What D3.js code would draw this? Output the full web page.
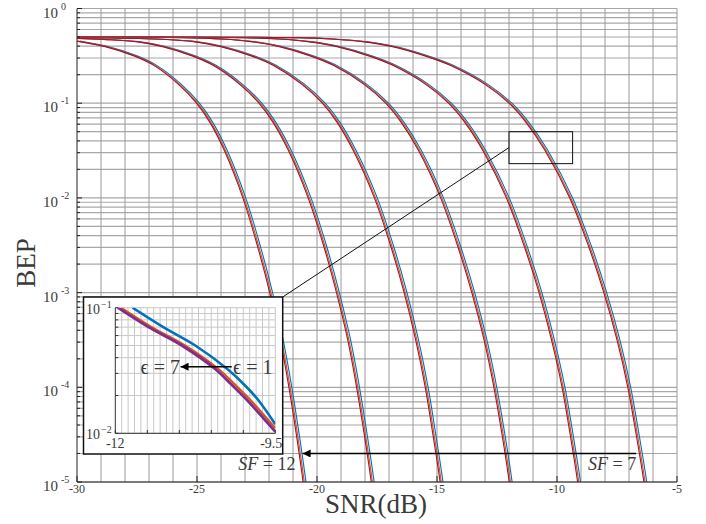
<!DOCTYPE html>
<html>
<head>
<meta charset="utf-8">
<script src="https://cdn.jsdelivr.net/npm/d3@7/dist/d3.min.js"></script>
<style>
  body { margin: 0; background: #fff; }
  text { font-family: "Liberation Serif", "DejaVu Serif", serif; fill: #3a3a3a; }
</style>
</head>
<body>
<svg id="chart" width="706" height="524"></svg>
<script>
const bepLevels = [0.447, 0.398, 0.316, 0.251, 0.158, 0.1, 0.0631, 0.0316, 0.01, 0.00316,
  1e-3, 3.16e-4, 1e-4, 3.16e-5, 1e-5, 2.5e-6];

// SNR (dB) where each spreading factor reaches those levels
const snrSF12 = [-29.9, -28.86, -27.62, -26.8, -25.77, -25.02, -24.47, -23.86, -23.09, -22.49, -21.97, -21.53, -21.17, -20.86, -20.58, -20.3];
const snrSF11 = [-27.54, -26.47, -25.2, -24.33, -23.22, -22.42, -21.84, -21.19, -20.37, -19.73, -19.19, -18.72, -18.35, -18.03, -17.74, -17.46];
const snrSF10 = [-25.15, -24.05, -22.74, -21.83, -20.63, -19.78, -19.17, -18.49, -17.61, -16.94, -16.37, -15.89, -15.49, -15.17, -14.87, -14.58];
const snrSF9 = [-22.75, -21.61, -20.28, -19.32, -18.04, -17.14, -16.5, -15.77, -14.85, -14.15, -13.55, -13.04, -12.63, -12.29, -11.99, -11.7];
const snrSF8 = [-20.38, -19.21, -17.84, -16.84, -15.47, -14.52, -13.85, -13.09, -12.11, -11.38, -10.75, -10.23, -9.79, -9.45, -9.14, -8.84];
const snrSF7 = [-18.1, -16.9, -15.5, -14.45, -13.0, -12.0, -11.3, -10.5, -9.47, -8.7, -8.05, -7.5, -7.05, -6.7, -6.38, -6.08];

// flat start of each curve near BEP = 0.5: [SNR dB, BEP]
const headSF12 = [[-30, 0.452]];
const headSF11 = [[-30, 0.484], [-28.9, 0.472]];
const headSF10 = [[-30, 0.497], [-27.5, 0.483], [-26.3, 0.47]];
const headSF9 = [[-30, 0.5], [-25.5, 0.492], [-24.0, 0.476]];
const headSF8 = [[-30, 0.5], [-23.0, 0.492], [-21.6, 0.476]];
const headSF7 = [[-30, 0.5], [-20.8, 0.492], [-19.4, 0.476]];

const sfSnr = [snrSF12, snrSF11, snrSF10, snrSF9, snrSF8, snrSF7];
const sfHead = [headSF12, headSF11, headSF10, headSF9, headSF8, headSF7];

// epsilon = 1 ... 7 bundle, shift (dB) of each edge seen in the main plot
const epsColors = ["#0072BD", "#D95319", "#A2142F"];
const epsShift = [0.12, 0.05, 0];

// zoomed SF = 7 curves of the inset
const insetBlue = [[-11.73, 0.1], [-11.25, 0.07], [-10.75, 0.05], [-10.25, 0.0325], [-10.0, 0.0248], [-9.77, 0.0185], [-9.5, 0.0118]];
const insetOrange = [[-11.91, 0.1], [-11.43, 0.07], [-10.91, 0.05], [-10.39, 0.0325], [-10.13, 0.0245], [-9.87, 0.018], [-9.5, 0.011]];
const insetPurple = [[-11.96, 0.1], [-11.48, 0.07], [-10.96, 0.05], [-10.44, 0.0325], [-10.18, 0.0243], [-9.92, 0.0179], [-9.5, 0.0103]];

const xTicks = [-30, -25, -20, -15, -10, -5];
const yTickExp = [0, -1, -2, -3, -4, -5];
const insetXTicks = [-12, -9.5];
const insetYTickExp = [-1, -2];

const svg = d3.select("#chart");
const pLeft = 77, pRight = 677, pTop = 8.5, pBottom = 482;

const x = d3.scaleLinear().domain([-30, -5]).range([pLeft, pRight]);
const y = d3.scaleLog().domain([1e-5, 1]).range([pBottom, pTop]);

const defs = svg.append("defs");
defs.append("clipPath").attr("id", "plotClip")
  .append("rect").attr("x", pLeft).attr("y", pTop).attr("width", pRight - pLeft).attr("height", pBottom - pTop);

// grid
const grid = svg.append("g");
grid.selectAll("line.h")
  .data(y.ticks())
  .enter().append("line")
  .attr("x1", pLeft).attr("x2", pRight)
  .attr("y1", d => y(d)).attr("y2", d => y(d))
  .attr("stroke", "#a8a8a8").attr("stroke-width", 1.2);
grid.selectAll("line.v")
  .data(d3.range(-29, -4))
  .enter().append("line")
  .attr("x1", d => x(d)).attr("x2", d => x(d))
  .attr("y1", pTop).attr("y2", pBottom)
  .attr("stroke", "#9a9a9a").attr("stroke-width", 1);

// curves
const line = shift => d3.line()
  .x(d => x(d[0] + shift))
  .y(d => y(d[1]))
  .curve(d3.curveCatmullRom.alpha(0.5));

const curves = svg.append("g").attr("clip-path", "url(#plotClip)");
sfSnr.forEach((snr, k) => {
  const pts = sfHead[k].concat(snr.map((s, i) => [s, bepLevels[i]]));
  epsColors.forEach((col, i) => {
    curves.append("path")
      .datum(pts)
      .attr("d", line(epsShift[i]))
      .attr("fill", "none")
      .attr("stroke", col)
      .attr("stroke-width", 1.1);
  });
});

// axes lines and ticks
svg.append("line").attr("x1", pLeft).attr("x2", pLeft).attr("y1", pTop).attr("y2", pBottom)
  .attr("stroke", "#222").attr("stroke-width", 1);
svg.append("line").attr("x1", pLeft).attr("x2", pRight).attr("y1", pBottom).attr("y2", pBottom)
  .attr("stroke", "#222").attr("stroke-width", 1);

svg.selectAll("line.ytick")
  .data(y.ticks())
  .enter().append("line")
  .attr("x1", pLeft).attr("x2", d => pLeft + (Math.abs(Math.log10(d) % 1) < 1e-9 ? 5 : 3))
  .attr("y1", d => y(d)).attr("y2", d => y(d))
  .attr("stroke", "#222");

svg.selectAll("line.xtick")
  .data(xTicks)
  .enter().append("line")
  .attr("x1", d => x(d)).attr("x2", d => x(d))
  .attr("y1", pBottom).attr("y2", pBottom - 6)
  .attr("stroke", "#222");

svg.selectAll("text.xlab")
  .data(xTicks)
  .enter().append("text")
  .attr("x", d => x(d)).attr("y", pBottom + 11)
  .attr("text-anchor", "middle")
  .attr("font-size", 12)
  .text(d => d);

const yl = svg.selectAll("text.ylab")
  .data(yTickExp)
  .enter().append("text")
  .attr("x", 43).attr("y", d => y(Math.pow(10, d)) + 9)
  .attr("font-size", 15)
  .text("10");
yl.append("tspan").attr("dx", 3).attr("dy", -8).attr("font-size", 10).text(d => d);

svg.append("text")
  .attr("x", 376).attr("y", 513)
  .attr("text-anchor", "middle")
  .attr("font-size", 27)
  .text("SNR(dB)");

svg.append("text")
  .attr("transform", "translate(35,263) rotate(-90)")
  .attr("text-anchor", "middle")
  .attr("font-size", 27)
  .text("BEP");

// arrow markers
defs.append("marker").attr("id", "head")
  .attr("viewBox", "0 0 10 10").attr("refX", 10).attr("refY", 5)
  .attr("markerWidth", 13).attr("markerHeight", 8).attr("markerUnits", "userSpaceOnUse")
  .attr("orient", "auto")
  .append("path").attr("d", "M0,0L10,5L0,10Z").attr("fill", "#000");

svg.append("line")
  .attr("x1", x(-6.7)).attr("x2", x(-20.6))
  .attr("y1", y(2e-5)).attr("y2", y(2e-5))
  .attr("stroke", "#000").attr("stroke-width", 1.6)
  .attr("marker-end", "url(#head)");

const sfText = (sx, sf) => {
  const t = svg.append("text")
    .attr("x", x(sx)).attr("y", y(1.35e-5))
    .attr("text-anchor", "end")
    .attr("font-size", 18);
  t.append("tspan").attr("font-style", "italic").text("SF");
  t.append("tspan").text(" = " + sf);
};
sfText(-20.9, 12);
sfText(-6.7, 7);

// zoom box and leader line
svg.append("rect")
  .attr("x", x(-12)).attr("y", y(0.05))
  .attr("width", x(-9.35) - x(-12)).attr("height", y(0.023) - y(0.05))
  .attr("fill", "none").attr("stroke", "#111").attr("stroke-width", 1);

const ix0 = 83.5, iy0 = 297, ix1 = 282.7, iy1 = 454;
svg.append("line")
  .attr("x1", x(-12)).attr("y1", y(0.034))
  .attr("x2", ix1).attr("y2", iy0)
  .attr("stroke", "#111").attr("stroke-width", 1);

// inset
const inset = svg.append("g");
inset.append("rect")
  .attr("x", ix0).attr("y", iy0).attr("width", ix1 - ix0).attr("height", iy1 - iy0)
  .attr("fill", "#fff").attr("stroke", "#111").attr("stroke-width", 1.5);

const xi = d3.scaleLinear().domain([-12, -9.5]).range([115.3, 275.3]);
const yi = d3.scaleLog().domain([0.01, 0.1]).range([433.3, 307.7]);

defs.append("clipPath").attr("id", "insetClip")
  .append("rect").attr("x", 115.3).attr("y", 307.7).attr("width", 160).attr("height", 125.6);

inset.selectAll("line.ih")
  .data(yi.ticks())
  .enter().append("line")
  .attr("x1", 115.3).attr("x2", 275.3)
  .attr("y1", d => yi(d)).attr("y2", d => yi(d))
  .attr("stroke", "#c8c8c8").attr("stroke-width", 1);
inset.selectAll("line.iv")
  .data(d3.range(1, 26))
  .enter().append("line")
  .attr("x1", d => xi(-12 + d / 10)).attr("x2", d => xi(-12 + d / 10))
  .attr("y1", 307.7).attr("y2", 433.3)
  .attr("stroke", "#c8c8c8").attr("stroke-width", 1);

const lineI = d3.line().x(d => xi(d[0])).y(d => yi(d[1])).curve(d3.curveCatmullRom.alpha(0.5));
const insetG = inset.append("g").attr("clip-path", "url(#insetClip)");
[[insetBlue, "#0072BD", 2.6], [insetOrange, "#D95319", 2.2], [insetPurple, "#7E2F8E", 2.8]].forEach(s => {
  insetG.append("path").datum(s[0]).attr("d", lineI)
    .attr("fill", "none").attr("stroke", s[1]).attr("stroke-width", s[2]);
});

inset.append("line").attr("x1", 115.3).attr("x2", 115.3).attr("y1", 307.7).attr("y2", 433.3)
  .attr("stroke", "#333");
inset.append("line").attr("x1", 115.3).attr("x2", 275.3).attr("y1", 433.3).attr("y2", 433.3)
  .attr("stroke", "#333");
inset.selectAll("line.ixt")
  .data(d3.range(0, 6))
  .enter().append("line")
  .attr("x1", d => xi(-12 + d / 2)).attr("x2", d => xi(-12 + d / 2))
  .attr("y1", 433.3).attr("y2", 430)
  .attr("stroke", "#333");
inset.selectAll("line.iyt")
  .data(yi.ticks())
  .enter().append("line")
  .attr("x1", 115.3).attr("x2", 118.3)
  .attr("y1", d => yi(d)).attr("y2", d => yi(d))
  .attr("stroke", "#333");

inset.selectAll("text.ixl")
  .data(insetXTicks)
  .enter().append("text")
  .attr("x", d => xi(d) - (d === -9.5 ? 4 : 0)).attr("y", 448)
  .attr("text-anchor", "middle")
  .attr("font-size", 14)
  .text(d => d);
const iyl = inset.selectAll("text.iyl")
  .data(insetYTickExp)
  .enter().append("text")
  .attr("x", 86).attr("y", d => yi(Math.pow(10, d)) + 6)
  .attr("font-size", 14)
  .text("10");
iyl.append("tspan").attr("dx", 1).attr("dy", -6).attr("font-size", 10).text(d => "\u2212" + Math.abs(d));

// epsilon arrow in inset
inset.append("line")
  .attr("x1", xi(-10.18)).attr("x2", xi(-10.98))
  .attr("y1", yi(0.0339)).attr("y2", yi(0.0339))
  .attr("stroke", "#000").attr("stroke-width", 1.4)
  .attr("marker-end", "url(#head)");
inset.append("text")
  .attr("x", xi(-10.16)).attr("y", yi(0.0339) + 7)
  .attr("font-size", 20)
  .text("\u03f5 = 1");
inset.append("text")
  .attr("x", xi(-10.99)).attr("y", yi(0.0339) + 7)
  .attr("text-anchor", "end")
  .attr("font-size", 20)
  .text("\u03f5 = 7");
</script>
</body>
</html>
